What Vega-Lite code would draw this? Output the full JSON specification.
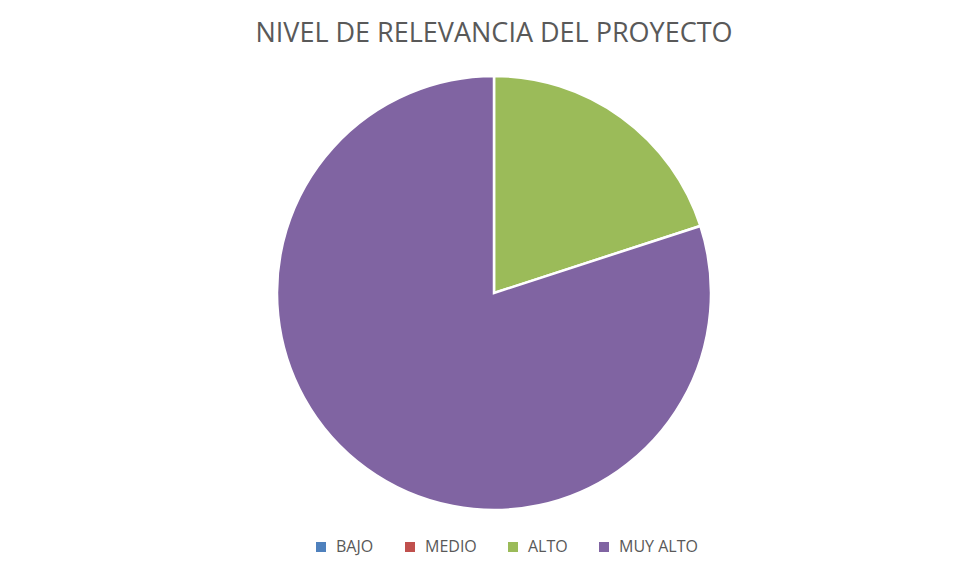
{
  "$schema": "https://vega.github.io/schema/vega-lite/v6.json",
  "autosize": {"type": "none"},
  "width": 434,
  "height": 434,
  "padding": {"left": 277, "top": 76, "right": 255, "bottom": 64},
  "background": "white",
  "title": {
    "text": "NIVEL DE RELEVANCIA DEL PROYECTO",
    "font": "Open Sans",
    "fontSize": 27,
    "fontWeight": "normal",
    "color": "#595959",
    "anchor": "middle",
    "offset": 23
  },
  "data": {
    "values": [
      {"nivel": "BAJO", "valor": 0, "orden": 1},
      {"nivel": "MEDIO", "valor": 0, "orden": 2},
      {"nivel": "ALTO", "valor": 1, "orden": 3},
      {"nivel": "MUY ALTO", "valor": 4, "orden": 4}
    ]
  },
  "mark": {"type": "arc", "stroke": "white", "strokeWidth": 2.5},
  "encoding": {
    "theta": {"field": "valor", "type": "quantitative", "stack": true},
    "order": {"field": "orden", "type": "quantitative"},
    "color": {
      "field": "nivel",
      "type": "nominal",
      "scale": {
        "domain": ["BAJO", "MEDIO", "ALTO", "MUY ALTO"],
        "range": ["#4F81BD", "#C0504D", "#9BBB59", "#8064A2"]
      },
      "legend": {
        "title": null,
        "orient": "none",
        "direction": "horizontal",
        "legendX": 36,
        "legendY": 463,
        "symbolType": "square",
        "symbolSize": 100,
        "symbolStrokeWidth": 0,
        "labelFont": "Open Sans",
        "labelFontSize": 16,
        "labelColor": "#595959",
        "labelOffset": 7,
        "columnPadding": 28
      }
    }
  },
  "config": {"view": {"stroke": null}}
}
